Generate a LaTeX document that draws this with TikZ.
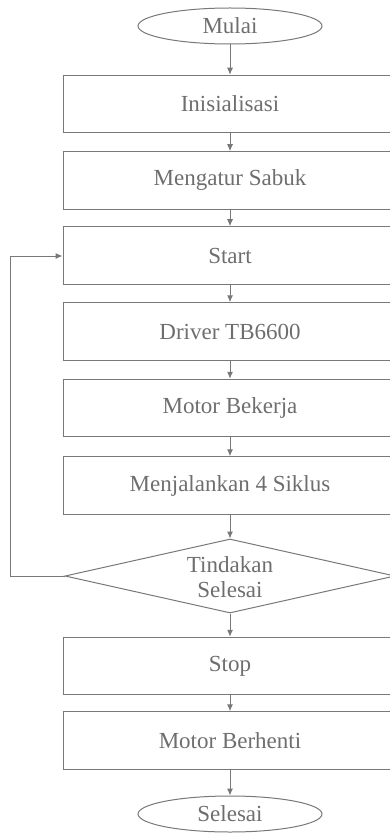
\documentclass[tikz,border=0pt]{standalone}
\usepackage{fontspec}
\setmainfont{Liberation Serif}
\usetikzlibrary{arrows.meta,shapes.geometric}
\definecolor{lc}{HTML}{787878}
\definecolor{tc}{HTML}{6E6E6E}
\begin{document}
\begin{tikzpicture}[x=1pt,y=-1pt,
  every node/.style={font=\fontsize{23}{25}\selectfont, text=tc},
  procbox/.style={draw=lc, line width=1pt, rectangle, minimum width=334pt, minimum height=57.5pt, inner sep=0pt},
  term/.style={draw=lc, line width=1pt, ellipse, minimum width=184pt, minimum height=36pt, inner sep=0pt},
  decision/.style={draw=lc, line width=1pt, diamond, minimum width=330pt, minimum height=74pt, inner sep=0pt},
  arr/.style={draw=lc, line width=1pt, -{Latex[length=7pt,width=6pt]}}]
\useasboundingbox (0,0) rectangle (390,834);
\clip (0,0) rectangle (390,834);
\node[term] (mulai) at (230,26) {Mulai};
\node[procbox] (init) at (230,104) {Inisialisasi};
\node[procbox] (sabuk) at (230,180.5) {Mengatur Sabuk};
\node[procbox] (start) at (230,255.5) {Start};
\node[procbox] (driver) at (230,331.5) {Driver TB6600};
\node[procbox] (kerja) at (230,408) {Motor Bekerja};
\node[procbox] (siklus) at (230,485.5) {Menjalankan 4 Siklus};
\node[decision] (dec) at (230,576) {};
\node[align=center, inner sep=0pt] (dectext) at (230,577) {Tindakan\\Selesai};
\node[procbox] (stop) at (230,666) {Stop};
\node[procbox] (henti) at (230,740.5) {Motor Berhenti};
\node[term] (selesai) at (230,814) {Selesai};
\coordinate (lb) at (10,576);
\coordinate (lt) at (10,256);
\draw[arr] (mulai) -- (init);
\draw[arr] (init) -- (sabuk);
\draw[arr] (sabuk) -- (start);
\draw[arr] (start) -- (driver);
\draw[arr] (driver) -- (kerja);
\draw[arr] (kerja) -- (siklus);
\draw[arr] (siklus) -- (dec);
\draw[arr] (dec) -- (stop);
\draw[arr] (stop) -- (henti);
\draw[arr] (henti) -- (selesai);
\draw[arr] (dec.west) -- (lb) -- (lt) -- (start.west |- lt);
\end{tikzpicture}
\end{document}
